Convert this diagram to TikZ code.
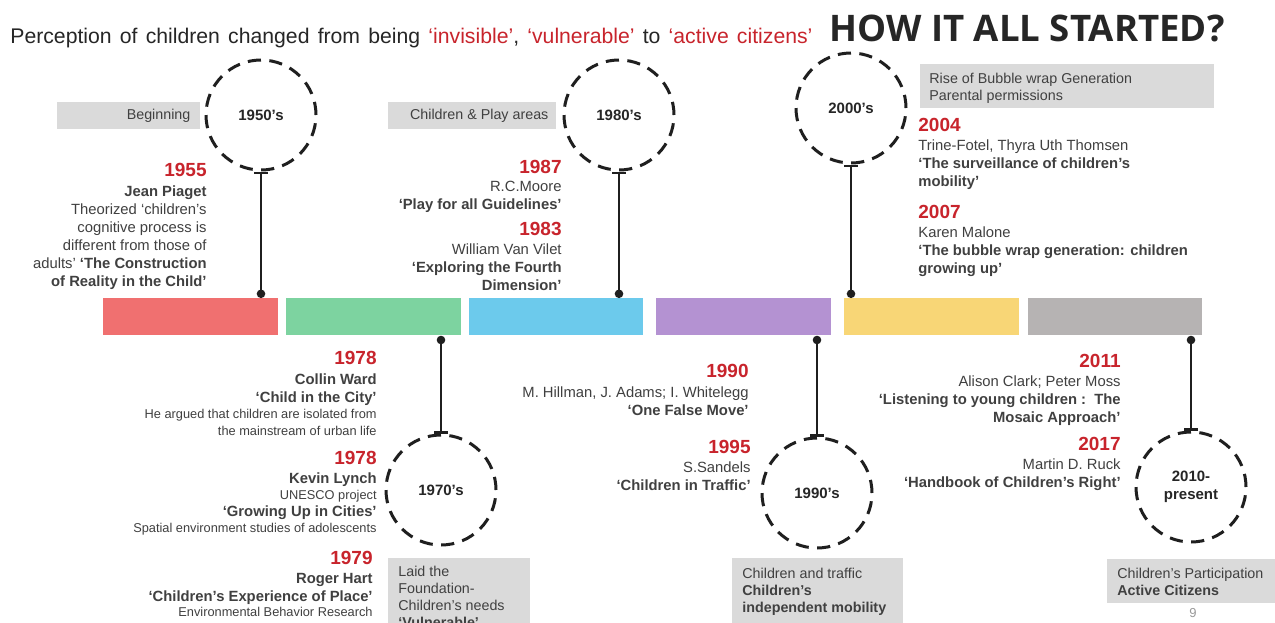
\documentclass[tikz,border=0pt]{standalone}
\usepackage{fontspec}
\setmainfont{Liberation Sans}
\newfontfamily\headfont{Open Sans}
\usetikzlibrary{arrows.meta}

\definecolor{yearred}{RGB}{200,36,44}
\definecolor{ink}{RGB}{38,38,38}
\definecolor{inkl}{RGB}{64,64,64}
\definecolor{boxgrey}{RGB}{218,218,218}
\definecolor{barred}{RGB}{240,112,112}
\definecolor{bargreen}{RGB}{125,211,160}
\definecolor{barblue}{RGB}{108,202,236}
\definecolor{barpurple}{RGB}{180,146,210}
\definecolor{baryellow}{RGB}{248,214,118}
\definecolor{bargrey}{RGB}{182,179,179}

\tikzset{
  yr/.style={font=\bfseries\fontsize{9.5}{11}\selectfont, text=yearred, inner sep=0},
  body/.style={font=\fontsize{7.4}{9}\selectfont, text=inkl, inner sep=0},
  small/.style={font=\fontsize{6.4}{8.2}\selectfont, text=inkl, inner sep=0},
  tag/.style={fill=boxgrey, inner sep=0, draw=none},
  tagtxt/.style={font=\fontsize{7.15}{8.4}\selectfont, text=inkl, inner sep=0},
  bar/.style={anchor=north west, minimum height=18.5pt, inner sep=0, draw=none},
  ring/.style={circle, draw=black!88, line width=1.5pt, dash pattern=on 6.6pt off 4.2pt,
    minimum size=55pt, inner sep=0, text=ink, font=\bfseries\fontsize{7.5}{9}\selectfont},
  link/.style={draw=black!88, line width=1.2pt, {Circle[length=4.2pt]}-{Bar[width=7pt, line width=1.4pt]}}
}

\begin{document}
\begin{tikzpicture}[x=0.5pt, y=-0.5pt]
\useasboundingbox (0,0) rectangle (1275,622);
\clip (0,0) rectangle (1275,622);
\fill[white] (0,0) rectangle (1275,622);

% heading
\node[anchor=base west, inner sep=0, text=ink, font=\fontsize{10.6}{12}\selectfont] (lead) at (10,43)
  {\spaceskip=4.1pt Perception of children changed from being \textcolor{yearred}{‘invisible’}, \textcolor{yearred}{‘vulnerable’} to \textcolor{yearred}{‘active citizens’}};
\node[anchor=base west, inner sep=0, text=ink, font=\headfont\bfseries\fontsize{18.3}{20}\selectfont] (title) at (829,41) {HOW IT ALL STARTED?};

% grey caption boxes
\node[tag, anchor=north west, minimum width=71.5pt, minimum height=13.5pt] (tagBeg) at (57,102) {};
\node[tagtxt, anchor=east] at ([xshift=-5pt]tagBeg.east) {Beginning};
\node[tag, anchor=north west, minimum width=84pt, minimum height=13.5pt] (tagPlay) at (388,102) {};
\node[tagtxt, anchor=east] at ([xshift=-4pt]tagPlay.east) {Children \& Play areas};
\node[tag, anchor=north west, minimum width=147pt, minimum height=22pt] (tagBub) at (920,64) {};
\node[tagtxt, anchor=north west, align=left] at (929,73) {Rise of Bubble wrap Generation\\Parental permissions};
\node[tag, anchor=north west, minimum width=71pt, minimum height=35pt] (tag70) at (388,558) {};
\node[tagtxt, anchor=north west, align=left] at (398,566) {Laid the\\Foundation-\\Children’s needs\\\textbf{‘Vulnerable’}};
\node[tag, anchor=north west, minimum width=85.5pt, minimum height=35pt] (tag90) at (732,558) {};
\node[tagtxt, anchor=north west, align=left] at (742,568) {Children and traffic\\\textbf{Children’s}\\\textbf{independent mobility}};
\node[tag, anchor=north west, minimum width=85pt, minimum height=22pt] (tag10) at (1107,559) {};
\node[tagtxt, anchor=north west, align=left] at (1117,568) {Children’s Participation\\\textbf{Active Citizens}};
\node[inner sep=0, anchor=base, text=black!40, font=\fontsize{6.5}{8}\selectfont] (page) at (1193,617) {9};

% timeline bars
\node[bar, fill=barred,    minimum width=87.5pt] (b1) at (103,298) {};
\node[bar, fill=bargreen,  minimum width=87.5pt] (b2) at (286,298) {};
\node[bar, fill=barblue,   minimum width=87pt]   (b3) at (469,298) {};
\node[bar, fill=barpurple, minimum width=87.5pt] (b4) at (656,298) {};
\node[bar, fill=baryellow, minimum width=87.5pt] (b5) at (844,298) {};
\node[bar, fill=bargrey,   minimum width=87pt]   (b6) at (1028,298) {};

% decade rings
\node[ring] (c50) at (261,115) {1950’s};
\node[ring] (c80) at (619,115) {1980’s};
\node[ring] (c00) at (851,108) {2000’s};
\node[ring] (c70) at (441,490) {1970’s};
\node[ring] (c90) at (817,493) {1990’s};
\node[ring, align=center] (c10) at (1191,487) {2010-\\present};

% connectors from bars to rings
\draw[link] (b1.north -| c50.center) -- (c50.south);
\draw[link] (b3.north -| c80.center) -- (c80.south);
\draw[link] (b5.north -| c00.center) -- (c00.south);
\draw[link] (b2.south -| c70.center) -- (c70.north);
\draw[link] (b4.south -| c90.center) -- (c90.north);
\draw[link] (b6.south -| c10.center) -- (c10.north);

% 1950s
\node[yr, anchor=base east] (y1955) at (207,176) {1955};
\node[body, anchor=north east, align=right] (t1955) at (207,185)
  {\textbf{Jean Piaget}\\Theorized ‘children’s\\cognitive process is\\different from those of\\adults’ \textbf{‘The Construction}\\\textbf{of Reality in the Child’}};

% 1980s
\node[yr, anchor=base east] (y1987) at (562,173) {1987};
\node[body, anchor=north east, align=right] (t1987) at (562,181) {R.C.Moore\\\textbf{‘Play for all Guidelines’}};
\node[yr, anchor=base east] (y1983) at (562,235) {1983};
\node[body, anchor=north east, align=right] (t1983) at (562,243) {William Van Vilet\\\textbf{‘Exploring the Fourth}\\\textbf{Dimension’}};

% 2000s
\node[yr, anchor=base west] (y2004) at (918,131) {2004};
\node[body, anchor=north west, align=left] (t2004) at (918,139) {Trine-Fotel, Thyra Uth Thomsen\\\textbf{‘The surveillance of children’s}\\\textbf{mobility’}};
\node[yr, anchor=base west] (y2007) at (918,218) {2007};
\node[body, anchor=north west, align=left] (t2007) at (918,226) {Karen Malone\\\textbf{‘The bubble wrap generation: children}\\\textbf{growing up’}};

% 1970s
\node[yr, anchor=base east] (y1978a) at (377,364) {1978};
\node[body, anchor=north east, align=right] (t1978a) at (377,373) {\textbf{Collin Ward}\\\textbf{‘Child in the City’}};
\node[small, anchor=north east, align=right] (s1978a) at (377,409) {He argued that children are isolated from\\the mainstream of urban life};
\node[yr, anchor=base east] (y1978b) at (377,464) {1978};
\node[body, anchor=north east] (t1978b) at (377,472) {\textbf{Kevin Lynch}};
\node[small, anchor=north east] (s1978b) at (377,490) {UNESCO project};
\node[body, anchor=north east] (u1978b) at (377,505) {\textbf{‘Growing Up in Cities’}};
\node[small, anchor=north east] (v1978b) at (377,523) {Spatial environment studies of adolescents};
\node[yr, anchor=base east] (y1979) at (373,564) {1979};
\node[body, anchor=north east, align=right] (t1979) at (373,573) {\textbf{Roger Hart}\\\textbf{‘Children’s Experience of Place’}};
\node[small, anchor=north east] (s1979) at (373,607) {Environmental Behavior Research};

% 1990s
\node[yr, anchor=base east] (y1990) at (749,377) {1990};
\node[body, anchor=north east, align=right] (t1990) at (749,386) {M. Hillman, J. Adams; I. Whitelegg\\\textbf{‘One False Move’}};
\node[yr, anchor=base east] (y1995) at (751,453) {1995};
\node[body, anchor=north east, align=right] (t1995) at (751,461) {S.Sandels\\\textbf{‘Children in Traffic’}};

% 2010-present
\node[yr, anchor=base east] (y2011) at (1121,367) {2011};
\node[body, anchor=north east, align=right] (t2011) at (1121,375) {Alison Clark; Peter Moss\\\textbf{‘Listening to young children :\ \ The}\\\textbf{Mosaic Approach’}};
\node[yr, anchor=base east] (y2017) at (1121,450) {2017};
\node[body, anchor=north east, align=right] (t2017) at (1121,458) {Martin D. Ruck\\\textbf{‘Handbook of Children’s Right’}};
\end{tikzpicture}
\end{document}
